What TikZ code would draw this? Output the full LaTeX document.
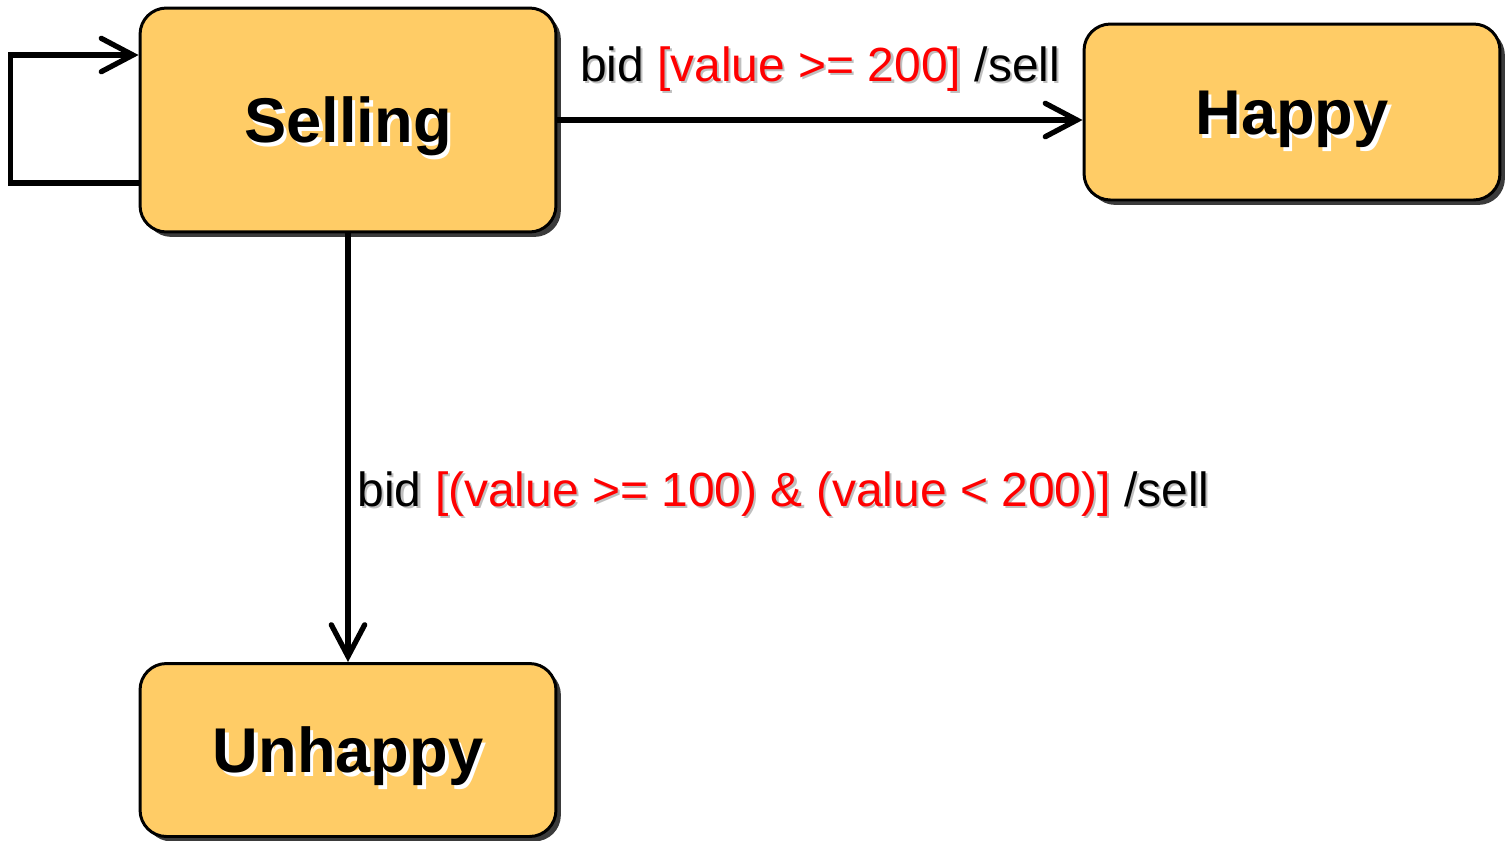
\documentclass[tikz,border=0pt]{standalone}
\usepackage{fontspec}
\setmainfont{Liberation Sans}
\usepackage{tikz}
\usetikzlibrary{arrows.meta, positioning, shadows}
\definecolor{stateFill}{HTML}{FFCC66}
\definecolor{ink}{HTML}{000000}
\colorlet{guardRed}{red}
% text with an offset copy behind it
\newcommand\shadowtext[3]{%
  \makebox[0pt][l]{\hspace{#1}\raisebox{-#1}{\colorlet{guardRed}{#2}\color{#2}#3}}#3}
\newcommand\guard[1]{\textcolor{guardRed}{#1}}

\begin{document}
\begin{tikzpicture}[
  x=0.02cm, y=-0.02cm,
  every node/.style={color=ink},
  state/.style={
    rectangle, rounded corners=15pt,
    draw=ink, line width=1.7pt, fill=stateFill,
    minimum width=8.32cm, inner sep=0pt,
    text height=26pt, text depth=0pt,
    font=\bfseries\fontsize{36}{40}\selectfont,
    drop shadow={shadow xshift=2.8pt, shadow yshift=-2.8pt, opacity=0.9, fill=black!85}
  },
  trans/.style={-{Straight Barb[length=18pt, width=19pt, line cap=round]}, draw=ink, line width=3pt},
  trLabel/.style={font=\fontsize{27.3}{32}\selectfont, inner sep=0pt}
]
\useasboundingbox (0,0) rectangle (1507,840);

% --- States ---
\node[state, minimum height=4.48cm] (sell)    at (348,120)  {\shadowtext{2pt}{white}{Selling}};
\node[state, minimum height=3.52cm] (happy)   at (1292,112) {\shadowtext{2pt}{white}{Happy}};
\node[state, minimum height=3.46cm] (unhappy) at (348,750)  {\shadowtext{2pt}{white}{Unhappy}};

% --- Transitions ---
\draw[trans] ([yshift=-1.26cm]sell.west) -- ++(-128,0) |- ([yshift=1.3cm]sell.west);

\draw[trans] (sell.east) -- (sell.east -| happy.west)
  node[trLabel, midway, anchor=base, yshift=22pt]
  {\shadowtext{1.2pt}{black!25}{bid \guard{[value >= 200]} /sell}};

\draw[trans] (sell.south) -- (unhappy.north)
  node[trLabel, pos=0.636, anchor=base west, xshift=4pt]
  {\shadowtext{1.2pt}{black!25}{bid \guard{[(value >= 100) \& (value < 200)]} /sell}};

\end{tikzpicture}
\end{document}
